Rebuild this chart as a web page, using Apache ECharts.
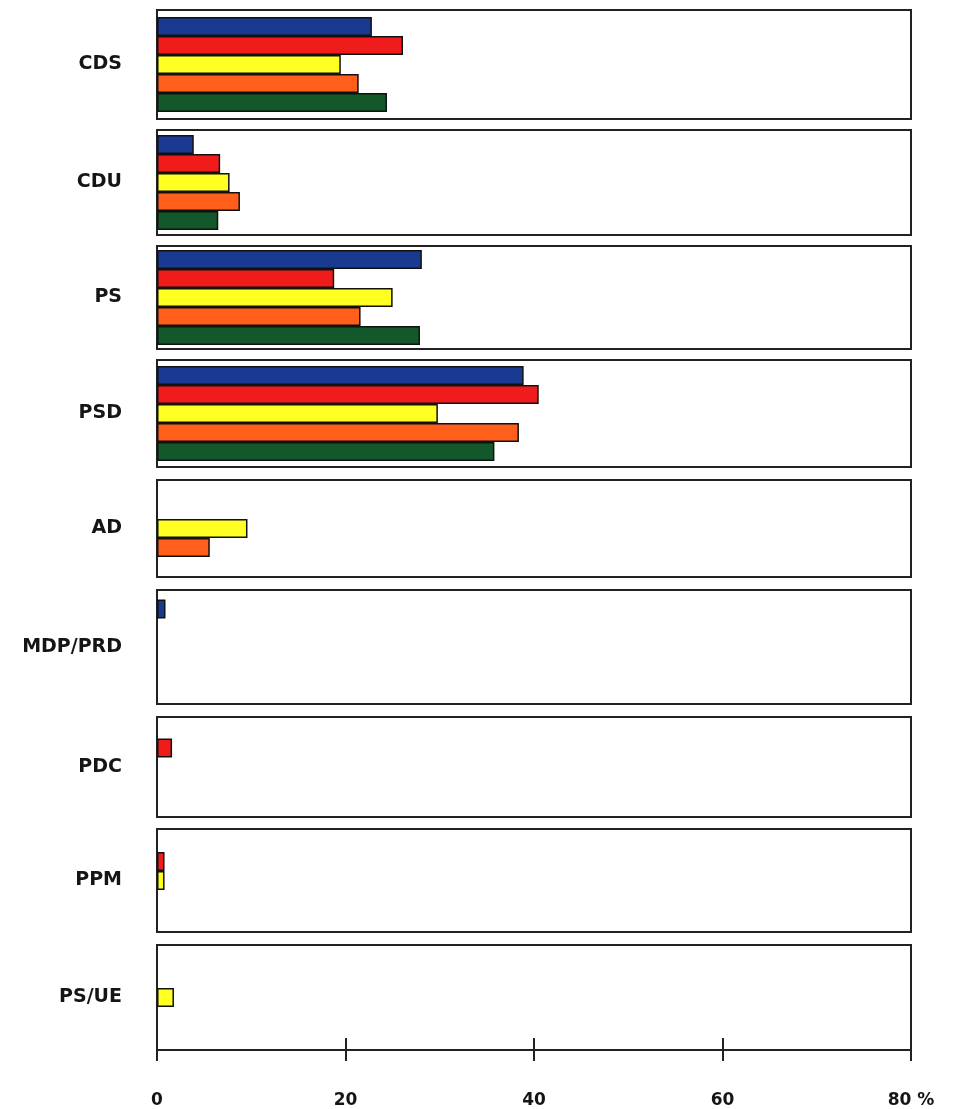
<!DOCTYPE html>
<html>
<head>
<meta charset="utf-8">
<script src="https://cdn.jsdelivr.net/npm/echarts@6/dist/echarts.min.js"></script>
<style>
  html, body { margin: 0; padding: 0; background: #fff; }
  #chart { width: 957px; height: 1109px; }
</style>
</head>
<body>
<div id="chart"></div>
<script>
// ---- data ----
const parties = ['CDS', 'CDU', 'PS', 'PSD', 'AD', 'MDP/PRD', 'PDC', 'PPM', 'PS/UE'];
const blueVals   = [22.8, 3.9, 28.1, 38.9, null, 0.9, null, null, null];
const redVals    = [26.1, 6.7, 18.8, 40.5, null, null, 1.6, 0.8, null];
const yellowVals = [19.5, 7.7, 25.0, 29.8, 9.6, null, null, 0.8, 1.8];
const orangeVals = [21.4, 8.8, 21.6, 38.4, 5.6, null, null, null, null];
const greenVals  = [24.4, 6.5, 27.9, 35.8, null, null, null, null, null];
const xTicks = [0, 20, 40, 60, 80];

// ---- layout / style ----
const panelTop    = [10, 130, 246, 360, 480, 590, 717, 829, 945];
const panelBottom = [119, 235, 349, 467, 577, 704, 817, 932, 1050];
const seriesDefs = [
  { name: 'blue',   vals: blueVals,   color: '#1a3a92' },
  { name: 'red',    vals: redVals,    color: '#f01c1c' },
  { name: 'yellow', vals: yellowVals, color: '#ffff22' },
  { name: 'orange', vals: orangeVals, color: '#ff5f1a' },
  { name: 'green',  vals: greenVals,  color: '#12582a' }
];
const W = 957, H = 1109;
const lineColor = '#222';
const font = 'DejaVu Sans';

const grids = [], xAxes = [], yAxes = [], series = [];
parties.forEach((p, g) => {
  grids.push({
    left: 157, right: W - 911,
    top: panelTop[g], height: panelBottom[g] - panelTop[g],
    show: true, borderColor: lineColor, borderWidth: 2,
    backgroundColor: 'transparent', containLabel: false
  });
  const isLast = g === parties.length - 1;
  xAxes.push({
    type: 'value', gridIndex: g, min: xTicks[0], max: xTicks[xTicks.length - 1], interval: 20,
    show: isLast, position: 'bottom',
    axisLine: { show: true, lineStyle: { color: lineColor, width: 2 } },
    axisTick: { show: true, inside: true, length: 12, lineStyle: { color: lineColor, width: 2 } },
    axisLabel: { show: false },
    splitLine: { show: false }
  });
  yAxes.push({
    type: 'category', gridIndex: g, data: [p], inverse: true,
    axisLine: { show: false }, axisTick: { show: false }, splitLine: { show: false },
    axisLabel: { show: true, margin: 35, fontSize: 19, fontWeight: 'bold', fontFamily: font, color: '#151515' }
  });
  seriesDefs.forEach(s => {
    series.push({
      type: 'bar', name: s.name, xAxisIndex: g, yAxisIndex: g,
      data: [s.vals[g]], barWidth: 19, barGap: '0%',
      itemStyle: { color: s.color, borderColor: '#111', borderWidth: 1.5 },
      silent: true
    });
  });
});
// outer ticks + labels on the last panel
xAxes.push({
  type: 'value', gridIndex: parties.length - 1, min: xTicks[0], max: xTicks[xTicks.length - 1], interval: 20,
  position: 'bottom',
  axisLine: { show: true, lineStyle: { color: lineColor, width: 2 } },
  axisTick: { show: true, inside: false, length: 11, lineStyle: { color: lineColor, width: 2 } },
  axisLabel: {
    show: true, margin: 42, fontSize: 17, fontWeight: 'bold', fontFamily: font, color: '#151515',
    formatter: v => (v === 80 ? '80 %' : String(v))
  },
  splitLine: { show: false }
});

const chart = echarts.init(document.getElementById('chart'), null, { renderer: 'canvas' });
chart.setOption({
  animation: false,
  backgroundColor: '#fff',
  grid: grids, xAxis: xAxes, yAxis: yAxes, series: series
});
</script>
</body>
</html>
